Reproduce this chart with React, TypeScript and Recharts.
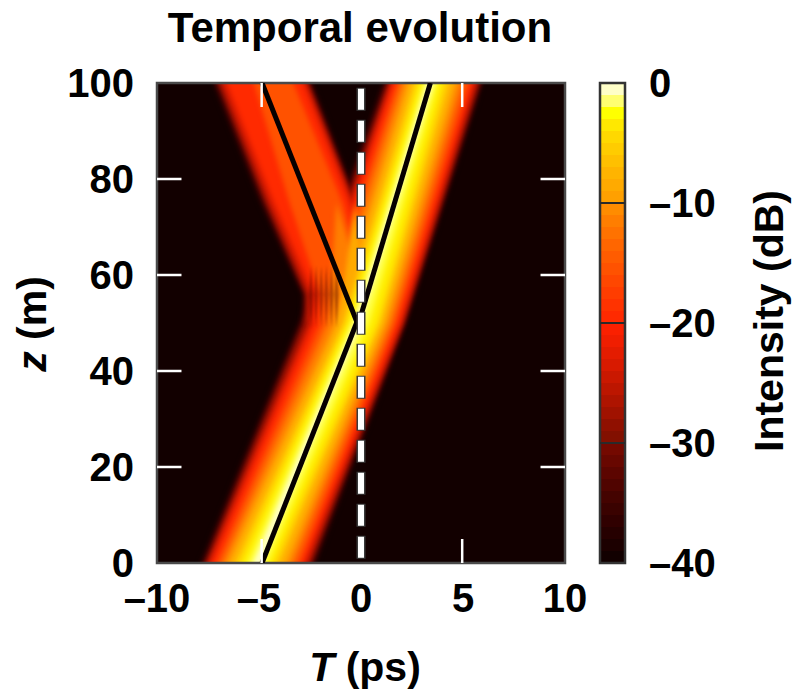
import React from 'react';
import {
  Area,
  CartesianGrid,
  ComposedChart,
  Line,
  ReferenceArea,
  ReferenceLine,
  XAxis,
  YAxis,
} from 'recharts';

const FONT = '"Liberation Sans", Arial, sans-serif';

const xTicks = [-10, -5, 0, 5, 10];
const yTicks = [0, 20, 40, 60, 80, 100];
const barTicks = [-40, -30, -20, -10, 0];
const innerZ = [20, 40, 60, 80];
const innerT = [-4.87, 4.96];

// isobands of intensity, dB level and its colour
const levels = [-38, -33, -28, -24, -20, -16, -12, -9, -6, -4, -2, -0.7];
const levelColors = [
  '#260000', '#5c0500', '#a01200', '#d81a00', '#ff2a00', '#ff5200',
  '#ff7e00', '#ffaa00', '#ffcc00', '#ffee00', '#ffff40', '#ffffd0',
];

// main pulse, T of the band edges at each z
const mainZ = [-5, 50, 105];
const mainLow = [
  [-8.38, -3.1, 1.45], [-8.23, -2.95, 1.6], [-8.08, -2.8, 1.75], [-7.98, -2.55, 1.85],
  [-7.83, -2.35, 1.95], [-7.58, -2.0, 2.15], [-7.33, -1.65, 2.35], [-7.08, -1.25, 2.6],
  [-6.73, -0.9, 2.9], [-6.43, -0.7, 3.15], [-6.08, -0.5, 3.4], [-5.78, -0.3, 3.6],
];
const mainHigh = [
  [-2.63, 2.25, 6.35], [-2.78, 2.15, 6.25], [-2.93, 2.1, 6.15], [-3.08, 2.0, 6.0],
  [-3.28, 1.9, 5.85], [-3.48, 1.7, 5.65], [-3.78, 1.5, 5.35], [-4.08, 1.25, 5.05],
  [-4.48, 1.0, 4.7], [-4.78, 0.8, 4.4], [-5.08, 0.4, 4.1], [-5.38, 0, 3.87],
];

// weaker pulse going left after z = 50, only the lower levels
const sideZ = [50, 56, 75, 105];
const sideLow = [
  [-2.9, -2.9, -4.95, -7.75], [-2.8, -2.8, -4.8, -7.6], [-2.7, -2.7, -4.65, -7.45],
  [-2.55, -2.55, -4.5, -7.3], [-2.3, -2.3, -4.25, -7.05], [-2.0, -2.0, -3.5, -5.6],
  [-1.5, -1.5, -1.2, -1.2], [-1.0, -0.9, -0.3, -0.3],
];
const sideHigh = [
  [1, 0.8, -0.13, -2.8], [0.9, 0.7, -0.22, -2.95], [0.8, 0.6, -0.32, -3.05],
  [0.7, 0.5, -0.4, -3.15], [0.6, 0.4, -0.55, -3.3], [0.5, 0.3, -0.9, -3.8],
  [0.4, 0.2, -1.2, -1.2], [0.3, 0.2, -0.3, -0.3],
];

// dark fringes where the two pulses split
const fringeZ = [49, 56, 62];
const fringeLow = [
  [-2.45, -2.55, -2.45], [-2.2, -2.3, -2.2], [-1.95, -2.05, -1.95],
  [-1.7, -1.8, -1.7], [-1.45, -1.55, -1.45], [-1.2, -1.3, -1.2],
];
const fringeHigh = [
  [-2.45, -2.35, -2.45], [-2.2, -2.1, -2.2], [-1.95, -1.85, -1.95],
  [-1.7, -1.6, -1.7], [-1.45, -1.35, -1.45], [-1.2, -1.1, -1.2],
];

// black trajectories
const pathT1 = [-4.85, -0.2];
const pathZ1 = [0, 50.2];
const pathT2 = [-0.1, 3.4];
const pathZ2 = [50.2, 100];
const pathT3 = [-0.2, -4.85];
const pathZ3 = [50.2, 100];

// colour bar, one entry for each dB step
const barFrom = [
  -40, -39, -38, -37, -36, -35, -34, -33, -32, -31, -30, -29, -28, -27, -26, -25, -24, -23, -22, -21,
  -20, -19, -18, -17, -16, -15, -14, -13, -12, -11, -10, -9, -8, -7, -6, -5, -4, -3, -2, -1,
];
const barColors = [
  '#120000', '#1c0000', '#260000', '#300000', '#3a0200', '#440300', '#500400', '#5c0500', '#680700', '#740900',
  '#821000', '#901000', '#a01200', '#ae1400', '#bc1600', '#ca1800', '#d81a00', '#e41c00', '#f01e00', '#fa2000',
  '#ff2a00', '#ff3300', '#ff3d00', '#ff4700', '#ff5200', '#ff5c00', '#ff6600', '#ff7200', '#ff7e00', '#ff8c00',
  '#ffa000', '#ffaa00', '#ffb400', '#ffc000', '#ffcc00', '#ffd800', '#ffe800', '#ffff00', '#ffff70', '#ffffc8',
];

const zip = (zs: number[], low: number[], high: number[]) =>
  zs.map((z, i) => ({ z, low: low[i], high: high[i] }));
const track = (ts: number[], zs: number[]) => ts.map((t, i) => ({ T: t, z: zs[i] }));
const minus = (v: number) => String(v).replace('-', '–');
const rangeKey = (r: { low: number; high: number }) => [r.low, r.high];

const tickStyle = { fontFamily: FONT, fontWeight: 700, fontSize: 40, fill: '#000' };

const band = (key: string, data: object[], color: string, blur: number, opacity = 1) => (
  <Area
    key={key}
    data={data}
    dataKey={rangeKey}
    type='linear'
    stroke='none'
    fill={color}
    fillOpacity={opacity}
    dot={false}
    activeDot={false}
    isAnimationActive={false}
    style={blur ? { filter: `blur(${blur}px)` } : undefined}
  />
);

const path = (key: string, data: object[]) => (
  <Line
    key={key}
    data={data}
    dataKey='T'
    type='linear'
    stroke='#060000'
    strokeWidth={5}
    dot={false}
    activeDot={false}
    isAnimationActive={false}
  />
);

const App: React.FC = () => {
  const bands: React.ReactNode[] = [];
  levels.forEach((level, i) => {
    bands.push(band(`main${level}`, zip(mainZ, mainLow[i], mainHigh[i]), levelColors[i], 2.4));
    if (i < sideLow.length) {
      bands.push(band(`side${level}`, zip(sideZ, sideLow[i], sideHigh[i]), levelColors[i], 2.4));
    }
  });

  return (
    <div style={{ position: 'absolute', left: 0, top: 0, width: 794, height: 690, background: '#fff' }}>
      <div style={{ position: 'absolute', left: 0, top: 0 }}>
        <ComposedChart
          width={794}
          height={690}
          layout='vertical'
          margin={{ top: 83, right: 229, bottom: 67, left: 97 }}
        >
          <CartesianGrid horizontal={false} vertical={false} fill='#120000' fillOpacity={1} />
          <XAxis
            type='number'
            domain={[-10, 10]}
            ticks={xTicks}
            allowDataOverflow
            height={60}
            tickLine={false}
            axisLine={false}
            tickMargin={15}
            tickFormatter={minus}
            tick={tickStyle}
            interval={0}
          />
          <YAxis
            type='number'
            dataKey='z'
            reversed
            domain={[0, 100]}
            ticks={yTicks}
            allowDataOverflow
            width={60}
            tickLine={false}
            axisLine={false}
            tickMargin={17}
            tick={tickStyle}
            interval={0}
          />
          {bands}
          {fringeLow.map((low, i) =>
            band(`fringe${i}`, zip(fringeZ, low, fringeHigh[i]), '#400000', 0.9, 0.4)
          )}
          {path('p1', track(pathT1, pathZ1))}
          {path('p2', track(pathT2, pathZ2))}
          {path('p3', track(pathT3, pathZ3))}
          <ReferenceLine
            segment={[{ x: 0, y: 99 }, { x: 0, y: 0.8 }]}
            stroke='#3a3a3a'
            strokeWidth={9}
            strokeDasharray='23 9'
          />
          <ReferenceLine
            segment={[{ x: 0, y: 98.8 }, { x: 0, y: 1 }]}
            stroke='#fff'
            strokeWidth={6}
            strokeDasharray='21 11'
          />
          {innerZ.map((z) => (
            <ReferenceLine key={`l${z}`} segment={[{ x: -10, y: z }, { x: -8.8, y: z }]} stroke='#fff' strokeWidth={2.5} />
          ))}
          {innerZ.map((z) => (
            <ReferenceLine key={`r${z}`} segment={[{ x: 8.8, y: z }, { x: 10, y: z }]} stroke='#fff' strokeWidth={2.5} />
          ))}
          {innerT.map((t) => (
            <ReferenceLine key={`b${t}`} segment={[{ x: t, y: 0 }, { x: t, y: 5 }]} stroke='#fff' strokeWidth={2.5} />
          ))}
          {innerT.map((t) => (
            <ReferenceLine key={`t${t}`} segment={[{ x: t, y: 95 }, { x: t, y: 100 }]} stroke='#fff' strokeWidth={2.5} />
          ))}
          <ReferenceArea x1={-10} x2={10} y1={0} y2={100} fill='none' stroke='#4a4a4a' strokeWidth={2.5} />
        </ComposedChart>
      </div>

      <div style={{ position: 'absolute', left: 0, top: 0 }}>
        <ComposedChart
          width={794}
          height={690}
          layout='vertical'
          margin={{ top: 83, right: 0, bottom: 127, left: 600 }}
        >
          <XAxis type='number' domain={[0, 1]} hide />
          <YAxis
            type='number'
            dataKey='z'
            reversed
            orientation='right'
            domain={[-40, 0]}
            ticks={barTicks}
            width={169}
            tickLine={false}
            axisLine={false}
            tickMargin={18}
            tickFormatter={minus}
            tick={tickStyle}
            interval={0}
          />
          {barFrom.map((db, i) =>
            band(`bar${db}`, [{ z: db, low: 0, high: 1 }, { z: 0, low: 0, high: 1 }], barColors[i], 0)
          )}
          {barTicks.slice(1, 4).map((db) => (
            <ReferenceLine key={db} y={db} stroke='#2a2a2a' strokeWidth={2} />
          ))}
          <ReferenceArea x1={0} x2={1} y1={-40} y2={0} fill='none' stroke='#333' strokeWidth={2.5} />
        </ComposedChart>
      </div>

      <svg width={794} height={690} style={{ position: 'absolute', left: 0, top: 0, pointerEvents: 'none' }}>
        <g fontFamily={FONT} fontWeight={700} fontSize={41} fill='#000' textAnchor='middle'>
          <text x={360} y={42} fontSize={42}>Temporal evolution</text>
          <text x={365} y={681}>
            <tspan fontStyle='italic'>T</tspan> (ps)
          </text>
          <text transform='translate(46,324) rotate(-90)'>
            <tspan fontStyle='italic'>z</tspan> (m)
          </text>
          <text transform='translate(783,321) rotate(-90)'>Intensity (dB)</text>
        </g>
      </svg>
    </div>
  );
};

export default App;
